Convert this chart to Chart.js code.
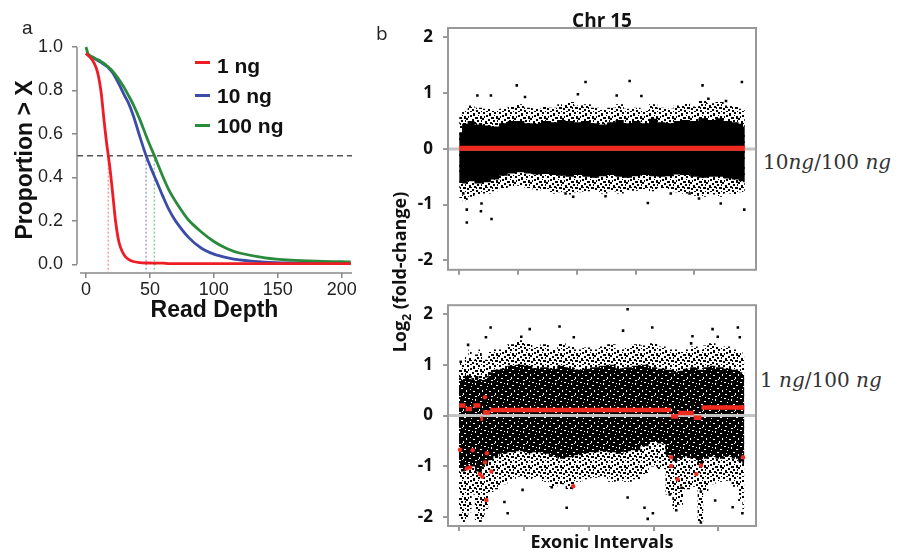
<!DOCTYPE html>
<html><head><meta charset="utf-8">
<script src="https://cdn.jsdelivr.net/npm/chart.js@4.4.1/dist/chart.umd.min.js"></script>
<style>
html,body{margin:0;padding:0;background:#fff;}
#fig{position:relative;width:900px;height:552px;overflow:hidden;background:#fff;}
#fig canvas{position:absolute;}
.lbl{position:absolute;white-space:nowrap;line-height:1;}
.sw{position:absolute;height:3px;width:15px;}
</style></head><body>
<div id="fig">
<canvas id="ca" width="365" height="330" style="left:0;top:0"></canvas>
<canvas id="cb1" width="390" height="290" style="left:370px;top:0"></canvas>
<canvas id="cb2" width="390" height="267" style="left:370px;top:285px"></canvas>

<div class="lbl" style="left:22px;top:17px;font:19px 'Liberation Sans',Arial,sans-serif;color:#222">a</div>
<div class="lbl" style="left:376px;top:20px;font:19px 'Open Sans',sans-serif;color:#222">b</div>

<div class="sw" style="left:195px;top:61px;background:#ee1c25"></div>
<div class="sw" style="left:195px;top:94px;background:#3b4ba8"></div>
<div class="sw" style="left:195px;top:124px;background:#2a8a3c"></div>
<div class="lbl" style="left:217px;top:54px;font:bold 21px 'Liberation Sans',Arial,sans-serif;color:#111">1 ng</div>
<div class="lbl" style="left:217px;top:84px;font:bold 21px 'Liberation Sans',Arial,sans-serif;color:#111">10 ng</div>
<div class="lbl" style="left:217px;top:114px;font:bold 21px 'Liberation Sans',Arial,sans-serif;color:#111">100 ng</div>

<div class="lbl" style="left:763px;top:150px;font:20px 'DejaVu Serif',serif;color:#333">10<i>ng</i>/100 <i>ng</i></div>
<div class="lbl" style="left:760px;top:368px;font:20px 'DejaVu Serif',serif;color:#333">1 <i>ng</i>/100 <i>ng</i></div>
<div class="lbl" style="left:401px;top:272px;transform:translate(-50%,-50%) rotate(-90deg);font:bold 18px 'Open Sans',sans-serif;color:#111">Log<sub style="font-size:12px">2</sub> (fold-change)</div>
</div>
<script>
// ---------------- Panel a data ----------------
const depth     = [0, 2, 5, 8, 10, 12, 14, 16, 17.5, 19, 21, 23, 25, 27, 30, 33, 37, 42, 47, 50, 53.5, 55, 60, 65, 70, 80, 90, 100, 110, 120, 140, 160, 180, 200, 207];
const prop1ng   = [0.97,0.96,0.94,0.905,0.86,0.785,0.67,0.565,0.5,0.43,0.32,0.205,0.125,0.078,0.042,0.024,0.013,0.008,0.006,0.006,0.005,0.005,0.005,0.003,0.003,0.003,0.003,0.003,0.003,0.003,0.003,0.003,0.003,0.003,0.003];
const prop10ng  = [0.97,0.962,0.952,0.942,0.935,0.928,0.92,0.912,0.905,0.895,0.88,0.86,0.838,0.815,0.778,0.745,0.685,0.59,0.5,0.455,0.405,0.385,0.315,0.25,0.2,0.125,0.075,0.047,0.031,0.02,0.01,0.006,0.005,0.004,0.004];
const prop100ng = [1.0,0.965,0.955,0.945,0.94,0.932,0.925,0.915,0.908,0.9,0.888,0.873,0.857,0.84,0.812,0.78,0.735,0.668,0.592,0.548,0.5,0.478,0.405,0.34,0.29,0.205,0.15,0.105,0.073,0.052,0.03,0.019,0.014,0.012,0.011];
const medianDepth = [17.5, 47, 53.5];            // 1 ng, 10 ng, 100 ng
const halfLevel   = 0.5;
const depthTicks  = [0, 50, 100, 150, 200];
const propTicks   = [0, 0.2, 0.4, 0.6, 0.8, 1.0];

// ---------------- Panel b: top (10ng/100ng) ----------------
const topX       = [0,10,19,33,47,61,75,90,104,118,132,146,160,174,188,203,217,231,245,259,273,287,301,316,330,344,358,372,386,400,414,429,443,457,471,480,486];
const topOuterHi = [0.62,0.7,0.78,0.74,0.72,0.68,0.72,0.76,0.8,0.74,0.72,0.76,0.74,0.8,0.84,0.78,0.8,0.74,0.7,0.74,0.8,0.72,0.74,0.7,0.8,0.74,0.72,0.78,0.82,0.76,0.86,0.82,0.84,0.78,0.76,0.72,0.7];
const topCoreHi  = [0.3,0.45,0.5,0.44,0.42,0.4,0.46,0.5,0.5,0.46,0.45,0.5,0.48,0.52,0.5,0.48,0.5,0.46,0.44,0.48,0.52,0.46,0.5,0.46,0.54,0.48,0.46,0.5,0.52,0.5,0.55,0.52,0.55,0.5,0.48,0.45,0.4];
const topCoreLo  = [-0.6,-0.62,-0.58,-0.62,-0.6,-0.55,-0.48,-0.44,-0.42,-0.44,-0.46,-0.45,-0.47,-0.48,-0.5,-0.47,-0.5,-0.52,-0.49,-0.47,-0.5,-0.52,-0.49,-0.47,-0.49,-0.5,-0.49,-0.46,-0.47,-0.5,-0.52,-0.5,-0.5,-0.53,-0.55,-0.58,-0.6];
const topOuterLo = [-0.88,-0.92,-0.86,-0.82,-0.8,-0.76,-0.7,-0.68,-0.66,-0.7,-0.74,-0.72,-0.8,-0.78,-0.82,-0.78,-0.76,-0.74,-0.8,-0.76,-0.8,-0.74,-0.75,-0.72,-0.76,-0.7,-0.72,-0.78,-0.8,-0.84,-0.86,-0.82,-0.86,-0.8,-0.82,-0.78,-0.76];
const topOutX    = [98,215,290,414,481,31,54,112,202,268,310,424,454,13,55,37,38,13,181,194,249,321,360,408,445,485,392,7];
const topOutY    = [1.14,1.2,1.22,1.14,1.2,0.96,0.96,0.93,0.98,0.96,0.95,0.9,0.86,-1.32,-1.26,-1.12,-0.98,-1.09,-0.8,-0.86,-0.85,-0.97,-0.8,-0.89,-0.98,-1.09,-0.8,-0.8];
const topSegStart = [0];
const topSegEnd   = [486];
const topSegVal   = [0.01];

// ---------------- Panel b: bottom (1ng/100ng) ----------------
const botX       = [0,6,12,17,22,27,33,37,42,48,58,68,81,94,107,119,132,145,158,171,184,196,209,222,235,248,260,273,286,299,312,325,333,341,350,363,373,380,389,402,414,427,434,440];
const botOuterHi = [1.05,1.0,1.15,1.3,1.1,1.2,1.3,1.15,1.1,1.25,1.3,1.3,1.4,1.48,1.42,1.35,1.4,1.3,1.42,1.36,1.3,1.34,1.3,1.36,1.4,1.3,1.35,1.4,1.38,1.42,1.36,1.3,1.3,1.25,1.3,1.36,1.3,1.38,1.42,1.35,1.36,1.3,1.25,1.2];
const botCoreHi  = [0.75,0.72,0.8,0.78,0.7,0.78,0.72,0.7,0.75,0.85,0.9,0.92,0.98,1.0,0.98,0.93,0.95,0.92,0.98,0.95,0.9,0.92,0.95,0.98,1.0,0.93,0.95,0.98,1.0,0.95,0.92,0.9,0.85,0.88,0.92,0.95,0.9,0.95,0.98,0.95,0.92,0.9,0.85,0.8];
const botCoreLo  = [-1.0,-1.1,-1.05,-0.95,-1.0,-1.1,-1.15,-1.0,-0.95,-0.88,-0.8,-0.75,-0.72,-0.7,-0.74,-0.72,-0.75,-0.8,-0.85,-0.82,-0.78,-0.74,-0.72,-0.7,-0.72,-0.75,-0.7,-0.68,-0.6,-0.52,-0.55,-0.78,-0.9,-0.85,-0.8,-0.85,-0.95,-0.85,-0.8,-0.85,-0.8,-0.85,-0.9,-0.95];
const botOuterLo = [-2.0,-2.1,-2.05,-1.9,-1.55,-2.05,-2.1,-2.0,-1.85,-1.5,-1.45,-1.35,-1.25,-1.2,-1.25,-1.22,-1.3,-1.4,-1.35,-1.45,-1.3,-1.25,-1.22,-1.2,-1.3,-1.28,-1.3,-1.25,-1.15,-1.0,-1.05,-1.55,-1.9,-1.75,-1.45,-1.4,-2.1,-1.5,-1.35,-1.3,-1.28,-1.4,-1.7,-1.9];
const botOutX    = [48.7,109,155,177,260,298,430,433,41.5,14,96,253,360,391,399,358,2.6,166,260,286,299,291,75,70,98,143,422,437,335,373,395,325,343,373];
const botOutY    = [1.73,1.7,1.75,1.54,2.09,1.73,1.73,1.54,1.54,1.39,1.55,1.67,1.56,1.7,1.55,1.42,1.06,-1.81,-1.61,-1.81,-1.92,-2.03,-1.92,-1.7,-1.46,-1.41,-1.8,-1.92,-1.86,-2.1,-1.67,-1.55,-1.42,-1.49];
const botSegStart = [0, 10, 22, 33, 37, 48, 327, 338, 362, 374];
const botSegEnd   = [10, 20, 33, 37, 48, 327, 338, 362, 374, 440];
const botSegVal   = [0.2, 0.13, 0.2, -0.06, 0.06, 0.11, -0.02, 0.05, -0.04, 0.16];
const botRedX    = [1.5,21,12,17,32,36,40,43,50,42,40,176,327,327,337,366,373,438];
const botRedY    = [-0.67,-0.68,-1.04,-1.02,-1.15,-1.2,-0.92,-0.74,-1.1,-1.66,0.36,-1.39,-0.82,-0.99,-1.25,-1.15,-0.98,-0.82];
const foldTicks  = [-2, -1, 0, 1, 2];
const intervalTicks = [0, 100, 200, 300, 400];

// ---------------- helpers ----------------
const pts = (xs, ys) => xs.map((x, i) => ({x, y: ys[i]}));
function segData(s, e, v) {
  const out = [];
  s.forEach((x0, i) => { out.push({x: x0, y: v[i]}, {x: e[i], y: v[i]}, {x: e[i], y: null}); });
  return out;
}
// texture tiles (fixed, hand-placed dots) used as fill styles for the dense point clouds
function makeTile(size, bg, fg, dots) {
  const c = document.createElement('canvas'); c.width = c.height = size;
  const g = c.getContext('2d');
  if (bg) { g.fillStyle = bg; g.fillRect(0, 0, size, size); }
  g.fillStyle = fg;
  dots.forEach(([x, y, w, h]) => g.fillRect(x, y, w, h));
  return g.createPattern(c, 'repeat');
}
const sparsePat = makeTile(16, null, '#000', [
  [1,0,2,2],[7,1,2,3],[12,0,2,2],[4,3,2,2],[9,5,3,2],[14,4,2,3],[0,6,2,2],[6,7,2,2],[11,8,2,2],
  [3,9,2,3],[8,10,2,2],[13,11,3,2],[1,12,2,2],[6,13,2,2],[10,14,2,2],[15,15,1,1],[4,15,2,1],
  [2,4,1,2],[10,11,1,2],[15,8,1,2],[5,11,1,1],[12,3,1,1],[8,2,1,1]
]);
const speckPat = makeTile(16, '#000', '#fff', [
  [2,1,2,1],[9,2,1,2],[14,4,2,1],[5,5,1,1],[11,7,2,1],[0,9,1,2],[7,10,2,1],[13,12,1,2],
  [3,13,2,1],[9,15,2,1],[15,0,1,1],[6,2,1,1],[12,14,1,1],[4,8,1,1]
]);

const boxPlugin = {
  id: 'box',
  afterDraw(chart) {
    const {ctx, chartArea: a} = chart;
    ctx.save(); ctx.strokeStyle = '#999'; ctx.lineWidth = 2;
    ctx.strokeRect(a.left, a.top, a.right - a.left, a.bottom - a.top);
    ctx.restore();
  }
};
const rAxes = {
  id: 'rAxes',
  afterDraw(chart) {
    const {ctx, chartArea: a, scales: {x, y}} = chart;
    ctx.save(); ctx.strokeStyle = '#888'; ctx.lineWidth = 1.5;
    ctx.beginPath();
    ctx.moveTo(a.left, y.getPixelForValue(propTicks[propTicks.length - 1]));
    ctx.lineTo(a.left, y.getPixelForValue(propTicks[0]));
    ctx.moveTo(a.left + 3, a.bottom); ctx.lineTo(a.right, a.bottom);
    ctx.stroke(); ctx.restore();
  }
};
const setTicks = arr => s => { s.ticks = arr.map(v => ({value: v})); };

// ---------------- Panel a chart ----------------
const dotCols = ['#f59a9a', '#9aa2dc', '#8fc99a'];
const lineCols = ['#ee1c25', '#3b4ba8', '#2a8a3c'];
const aSets = [
  {data: pts(depth, prop1ng), borderColor: lineCols[0], order: 1},
  {data: pts(depth, prop10ng), borderColor: lineCols[1], order: 3},
  {data: pts(depth, prop100ng), borderColor: lineCols[2], order: 2},
].map(d => Object.assign({borderWidth: 2.8, pointRadius: 0, tension: 0.3, clip: 8}, d));
medianDepth.forEach((m, i) => aSets.push({
  data: [{x: m, y: halfLevel}, {x: m, y: -0.035}], borderColor: dotCols[i],
  borderWidth: 1.5, borderDash: [2, 2], pointRadius: 0, order: 6
}));
aSets.push({data: [{x: -7, y: halfLevel}, {x: 208, y: halfLevel}], borderColor: '#555',
  borderWidth: 1.5, borderDash: [6, 4], pointRadius: 0, order: 5});

new Chart(document.getElementById('ca'), {
  type: 'line',
  data: {datasets: aSets},
  options: {
    responsive: false, animation: false, events: [],
    layout: {padding: {left: 0, top: 47, right: 13, bottom: 0}},
    plugins: {legend: {display: false}, tooltip: {enabled: false}},
    scales: {
      x: {type: 'linear', min: -7, max: 208, afterBuildTicks: setTicks(depthTicks),
        afterFit: s => { s.height = 57; },
        border: {display: false},
        grid: {drawOnChartArea: false, drawTicks: true, tickLength: 5, color: '#888', lineWidth: 1.5},
        ticks: {font: {family: "'Liberation Sans', Arial", size: 18}, color: '#222', padding: 1, maxRotation: 0, autoSkip: false},
        title: {display: true, text: 'Read Depth', color: '#111', font: {family: "'Liberation Sans', Arial", size: 23, weight: 'bold'}, padding: {top: 0, bottom: 6}}},
      y: {type: 'linear', min: -0.04, max: 1.0, afterBuildTicks: setTicks(propTicks),
        afterFit: s => { s.width = 77; },
        border: {display: false},
        grid: {drawOnChartArea: false, drawTicks: true, tickLength: 5, color: '#888', lineWidth: 1.5},
        ticks: {font: {family: "'Liberation Sans', Arial", size: 18}, color: '#222', padding: 9, callback: v => v.toFixed(1)},
        title: {display: true, text: 'Proportion > X', color: '#111', font: {family: "'Liberation Sans', Arial", size: 23, weight: 'bold'}, padding: {top: 12, bottom: 0}}}
    }
  },
  plugins: [rAxes]
});

// ---------------- Panel b charts ----------------
function cloudSets(X, oHi, cHi, cLo, oLo, corePat) {
  const base = {pointRadius: 0, borderWidth: 0, stepped: 'middle', tension: 0};
  return [
    Object.assign({data: pts(X, oHi), fill: '+1', backgroundColor: sparsePat, order: 10}, base),
    Object.assign({data: pts(X, oLo), fill: false, order: 10}, base),
    Object.assign({data: pts(X, cHi), fill: '+1', backgroundColor: corePat, order: 9}, base),
    Object.assign({data: pts(X, cLo), fill: false, order: 9}, base)
  ];
}
function bScales(xmin, xmax, xh, withTitle, chrTitle) {
  const sc = {
    x: {type: 'linear', min: xmin, max: xmax, afterBuildTicks: setTicks(intervalTicks),
      afterFit: s => { s.height = xh; }, border: {display: false},
      grid: {drawOnChartArea: false, drawTicks: true, tickLength: 5, color: '#999', lineWidth: 2},
      ticks: {display: false},
      title: {display: withTitle, text: 'Exonic Intervals', color: '#111', font: {family: "'Open Sans'", size: 18, weight: 'bold'}, padding: {top: 0, bottom: -2}}},
    y: {type: 'linear', min: -2.17, max: 2.17, afterBuildTicks: setTicks(foldTicks),
      afterFit: s => { s.width = 78; }, border: {display: false},
      grid: {drawOnChartArea: false, drawTicks: true, tickLength: 5, color: '#999', lineWidth: 2},
      ticks: {font: {family: "'Open Sans'", size: 17, weight: 'bold'}, color: '#111', padding: 10}}
  };
  if (chrTitle) {
    sc.xTop = {type: 'linear', position: 'top', min: xmin, max: xmax,
      afterFit: s => { s.height = 28; }, border: {display: false},
      grid: {display: false}, ticks: {display: false},
      title: {display: true, text: chrTitle, color: '#111', font: {family: "'Open Sans'", size: 19, weight: 'bold'}, padding: {top: 10, bottom: 0}}};
  }
  return sc;
}

const t1 = cloudSets(topX, topOuterHi, topCoreHi, topCoreLo, topOuterLo, '#000');
t1.push({data: pts(topOutX, topOutY), showLine: false, pointStyle: 'rect', pointRadius: 1.8, pointBackgroundColor: '#000', pointBorderWidth: 0, order: 8});
t1.push({data: [{x: -19, y: 0}, {x: 505, y: 0}], borderColor: '#c4c4c4', borderWidth: 3, pointRadius: 0, order: 5});
t1.push({data: segData(topSegStart, topSegEnd, topSegVal), borderColor: '#f02a1e', borderWidth: 5, pointRadius: 0, spanGaps: false, order: 2});

new Chart(document.getElementById('cb1'), {
  type: 'line',
  data: {datasets: t1},
  options: {
    responsive: false, animation: false, events: [],
    layout: {padding: {left: 0, top: 0, right: 3, bottom: 0}},
    plugins: {legend: {display: false}, tooltip: {enabled: false}},
    scales: bScales(-19, 505, 10, false, 'Chr 15')
  },
  plugins: [boxPlugin]
});

const t2 = cloudSets(botX, botOuterHi, botCoreHi, botCoreLo, botOuterLo, speckPat);
t2.push({data: pts(botOutX, botOutY), showLine: false, pointStyle: 'rect', pointRadius: 1.8, pointBackgroundColor: '#000', pointBorderWidth: 0, order: 8});
t2.push({data: [{x: -17, y: 0}, {x: 458, y: 0}], borderColor: '#c4c4c4', borderWidth: 3, pointRadius: 0, order: 5});
t2.push({data: segData(botSegStart, botSegEnd, botSegVal), borderColor: '#f02a1e', borderWidth: 4.5, pointRadius: 0, spanGaps: false, order: 2});
t2.push({data: pts(botRedX, botRedY), showLine: false, pointStyle: 'circle', pointRadius: 2.2, pointBackgroundColor: '#f02a1e', pointBorderWidth: 0, order: 1});

new Chart(document.getElementById('cb2'), {
  type: 'line',
  data: {datasets: t2},
  options: {
    responsive: false, animation: false, events: [],
    layout: {padding: {left: 0, top: 8, right: 3, bottom: 0}},
    plugins: {legend: {display: false}, tooltip: {enabled: false}},
    scales: bScales(-17, 458, 26, true, null)
  },
  plugins: [boxPlugin]
});
</script>
</body></html>
